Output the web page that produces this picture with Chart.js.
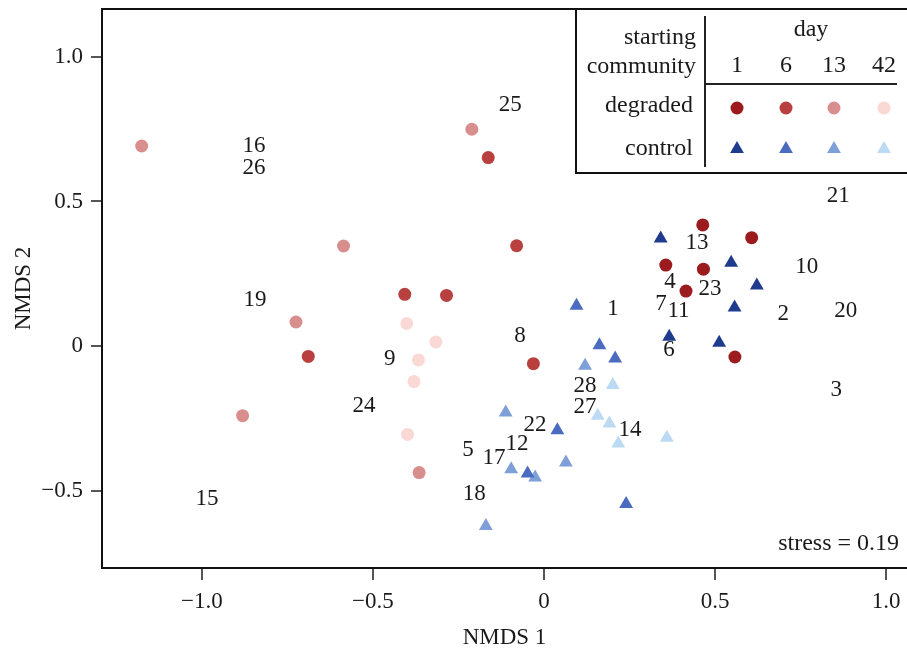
<!DOCTYPE html>
<html>
<head>
<meta charset="utf-8">
<script src="https://cdn.jsdelivr.net/npm/chart.js@4.4.1/dist/chart.umd.min.js"></script>
<style>
  body { margin: 0; background: #fff; }
  canvas { display: block; }
</style>
</head>
<body>
<canvas id="myChart" width="907" height="653"></canvas>
<script>
// sampling days and colours per day
const days = ['1', '6', '13', '42'];
const degradedColors = ['#9b1b1e', '#b8403f', '#d98e8e', '#fad8d4'];
const controlColors = ['#1f3b8e', '#4a6bbf', '#7f9fd8', '#bcdaf3'];

// NMDS scores [NMDS1, NMDS2]
const degradedDay1 = [[0.464, 0.419], [0.607, 0.375], [0.356, 0.280], [0.466, 0.266], [0.415, 0.190], [0.558, -0.038]];
const degradedDay6 = [[-0.080, 0.347], [-0.163, 0.652], [-0.407, 0.179], [-0.285, 0.175], [-0.689, -0.036], [-0.031, -0.061]];
const degradedDay13 = [[-0.211, 0.750], [-0.586, 0.346], [-0.725, 0.083], [-0.365, -0.438], [-0.881, -0.241], [-1.176, 0.692]];
const degradedDay42 = [[-0.401, 0.078], [-0.316, 0.014], [-0.367, -0.048], [-0.380, -0.123], [-0.399, -0.306]];

const controlDay1 = [[0.341, 0.372], [0.547, 0.288], [0.622, 0.209], [0.557, 0.133], [0.366, 0.032], [0.512, 0.011]];
const controlDay6 = [[0.095, 0.139], [0.162, 0.003], [0.208, -0.043], [0.039, -0.291], [-0.048, -0.441], [0.240, -0.547]];
const controlDay13 = [[0.120, -0.068], [-0.112, -0.230], [0.064, -0.403], [-0.096, -0.426], [-0.026, -0.455], [-0.170, -0.623]];
const controlDay42 = [[0.201, -0.135], [0.157, -0.241], [0.191, -0.268], [0.217, -0.337], [0.359, -0.317]];

// plot id labels
const sampleIds = ['25', '16', '26', '19', '9', '24', '15', '8', '1', '5', '17', '12', '22', '18',
  '28', '27', '14', '13', '4', '7', '11', '23', '6', '2', '10', '20', '21', '3'];
const sampleX = [-0.099, -0.848, -0.848, -0.845, -0.451, -0.526, -0.985, -0.070, 0.202, -0.222, -0.146, -0.079, -0.026, -0.204,
  0.120, 0.120, 0.251, 0.447, 0.368, 0.342, 0.393, 0.485, 0.365, 0.699, 0.768, 0.882, 0.860, 0.854];
const sampleY = [0.838, 0.694, 0.620, 0.163, -0.040, -0.204, -0.527, 0.039, 0.131, -0.356, -0.385, -0.336, -0.270, -0.507,
  -0.134, -0.206, -0.288, 0.361, 0.226, 0.149, 0.125, 0.202, -0.010, 0.113, 0.278, 0.125, 0.522, -0.149];

const xTicks = [-1.0, -0.5, 0, 0.5, 1.0];
const yTicks = [-0.5, 0, 0.5, 1.0];
const stressText = 'stress = 0.19';

const serif = '"Liberation Serif", "DejaVu Serif", serif';

function toPoints(arr) {
    return arr.map(p => ({ x: p[0], y: p[1] }));
}

function fmt(v) {
    if (v === 0) return '0';
    return (v < 0 ? '\u2212' : '') + Math.abs(v).toFixed(1);
}

const degradedSets = [degradedDay1, degradedDay6, degradedDay13, degradedDay42];
const controlSets = [controlDay1, controlDay6, controlDay13, controlDay42];

let datasets = [];
for (let i = 0; i < days.length; i++) {
    datasets.push({
        label: 'degraded day ' + days[i],
        data: toPoints(degradedSets[i]),
        pointStyle: 'circle',
        pointRadius: 6.5,
        backgroundColor: degradedColors[i],
        borderWidth: 0
    });
    datasets.push({
        label: 'control day ' + days[i],
        data: toPoints(controlSets[i]),
        pointStyle: 'triangle',
        pointRadius: 8,
        backgroundColor: controlColors[i],
        borderWidth: 0
    });
}

function drawTriangle(ctx, x, y, r, color) {
    ctx.fillStyle = color;
    ctx.beginPath();
    ctx.moveTo(x, y - r);
    ctx.lineTo(x + r * Math.sin(Math.PI * 2 / 3), y + r / 2);
    ctx.lineTo(x - r * Math.sin(Math.PI * 2 / 3), y + r / 2);
    ctx.closePath();
    ctx.fill();
}

const annotate = {
    id: 'annotate',
    beforeDatasetsDraw(chart) {
        const ctx = chart.ctx;
        const xs = chart.scales.x;
        const ys = chart.scales.y;
        ctx.save();
        ctx.font = '23px ' + serif;
        ctx.fillStyle = '#1a1a1a';
        ctx.textAlign = 'center';
        ctx.textBaseline = 'middle';
        for (let i = 0; i < sampleIds.length; i++) {
            ctx.fillText(sampleIds[i], xs.getPixelForValue(sampleX[i]), ys.getPixelForValue(sampleY[i]) + 1);
        }
        ctx.restore();
    },
    afterDraw(chart) {
        const ctx = chart.ctx;
        const a = chart.chartArea;
        ctx.save();
        // frame top line
        ctx.strokeStyle = '#111';
        ctx.lineWidth = 2;
        ctx.beginPath();
        ctx.moveTo(a.left, a.top);
        ctx.lineTo(chart.width + 5, a.top);
        ctx.stroke();

        // legend table
        const lx = 576, ly = a.top, lw = 340, lh = 164;
        ctx.fillStyle = '#fff';
        ctx.fillRect(lx, ly, lw, lh);
        ctx.strokeRect(lx, ly, lw, lh);
        ctx.lineWidth = 2;
        ctx.strokeStyle = '#222';
        ctx.beginPath();
        ctx.moveTo(705, 16);
        ctx.lineTo(705, 167);
        ctx.moveTo(705, 84);
        ctx.lineTo(897, 84);
        ctx.stroke();

        ctx.fillStyle = '#1a1a1a';
        ctx.font = '24px ' + serif;
        ctx.textBaseline = 'middle';
        ctx.textAlign = 'right';
        ctx.fillText('starting', 696, 38);
        ctx.fillText('community', 696, 67);
        ctx.fillText('degraded', 693, 106);
        ctx.fillText('control', 693, 149);
        ctx.textAlign = 'center';
        ctx.fillText('day', 811, 30);
        const colX = [737, 786, 834, 884];
        for (let i = 0; i < days.length; i++) {
            ctx.fillStyle = '#1a1a1a';
            ctx.fillText(days[i], colX[i], 66);
            ctx.fillStyle = degradedColors[i];
            ctx.beginPath();
            ctx.arc(colX[i], 108, 6.5, 0, Math.PI * 2);
            ctx.fill();
            drawTriangle(ctx, colX[i], 149, 8, controlColors[i]);
        }

        // stress value
        ctx.fillStyle = '#1a1a1a';
        ctx.font = '24px ' + serif;
        ctx.textAlign = 'right';
        ctx.fillText(stressText, 899, 544);
        ctx.restore();
    }
};

const ctx = document.getElementById('myChart');

new Chart(ctx, {
    type: 'scatter',
    data: { datasets: datasets },
    options: {
        responsive: false,
        animation: false,
        devicePixelRatio: 1,
        layout: { autoPadding: false, padding: { top: 9, right: 0, left: 0, bottom: 0 } },
        plugins: {
            legend: { display: false },
            tooltip: { enabled: false }
        },
        scales: {
            x: {
                type: 'linear',
                min: -1.292,
                max: 1.061,
                afterBuildTicks: scale => { scale.ticks = xTicks.map(v => ({ value: v })); },
                afterFit: scale => {
                    scale.height = 85;
                    scale.paddingLeft = 0;
                    scale.paddingRight = 0;
                },
                grid: { drawOnChartArea: false, drawTicks: true, tickLength: 12, color: '#555', lineWidth: 2 },
                border: { display: true, color: '#111', width: 2 },
                ticks: {
                    callback: v => fmt(v),
                    font: { family: serif, size: 23 },
                    color: '#1a1a1a',
                    padding: 8,
                    maxRotation: 0
                },
                title: {
                    display: true,
                    text: 'NMDS 1',
                    font: { family: serif, size: 23 },
                    color: '#1a1a1a',
                    padding: { top: 0, bottom: 1 }
                }
            },
            y: {
                type: 'linear',
                min: -0.768,
                max: 1.166,
                afterBuildTicks: scale => { scale.ticks = yTicks.map(v => ({ value: v })); },
                afterFit: scale => {
                    scale.width = 102;
                    scale.paddingTop = 0;
                    scale.paddingBottom = 0;
                },
                grid: { drawOnChartArea: false, drawTicks: true, tickLength: 11, color: '#555', lineWidth: 2 },
                border: { display: true, color: '#111', width: 2 },
                ticks: {
                    callback: v => fmt(v),
                    font: { family: serif, size: 23 },
                    color: '#1a1a1a',
                    padding: 8
                },
                title: {
                    display: true,
                    text: 'NMDS 2',
                    font: { family: serif, size: 23 },
                    color: '#1a1a1a',
                    padding: { top: 10, bottom: 0 }
                }
            }
        }
    },
    plugins: [annotate]
});
</script>
</body>
</html>
